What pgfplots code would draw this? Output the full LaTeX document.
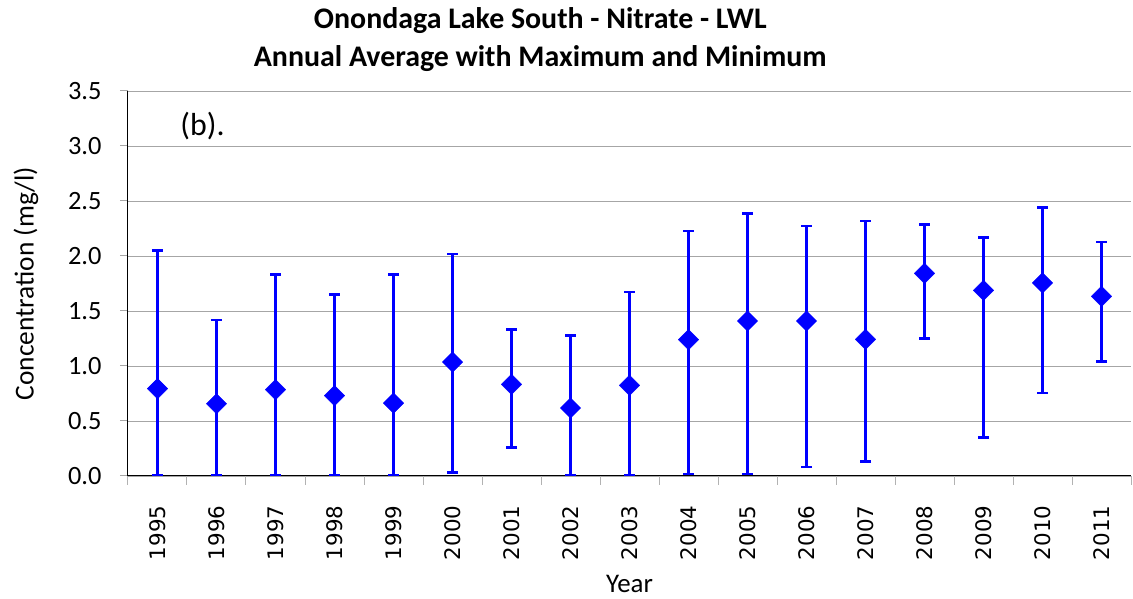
\documentclass[border=0pt]{standalone}
\usepackage{pgfplots}
\pgfplotsset{compat=1.18}
\usepackage{pgfplotstable}
\usepackage{fontspec}
\setmainfont{Carlito}
\newfontfamily\tickfont{DejaVu Sans}
\definecolor{serblue}{RGB}{0,0,255}
\pgfplotstableread{
x mean max min
0 0.794 2.050 0.010
1 0.657 1.420 0.010
2 0.785 1.830 0.010
3 0.730 1.650 0.010
4 0.663 1.830 0.010
5 1.036 2.020 0.033
6 0.833 1.333 0.260
7 0.618 1.278 0.010
8 0.824 1.673 0.010
9 1.239 2.227 0.020
10 1.409 2.387 0.020
11 1.409 2.273 0.080
12 1.242 2.318 0.130
13 1.842 2.288 1.248
14 1.687 2.169 0.351
15 1.755 2.439 0.755
16 1.633 2.127 1.039
}\data
\begin{document}
\begin{tikzpicture}[x=1bp,y=1bp]
\begin{axis}[
  at={(0,0)}, anchor=south west,
  scale only axis, width=1003bp, height=385bp,
  xmin=-0.5, xmax=16.5, ymin=0, ymax=3.5,
  axis x line*=bottom, axis y line*=left,
  axis line style={black, line width=1bp},
  xtick={0,...,16},
  xticklabels={1995,1996,1997,1998,1999,2000,2001,2002,2003,2004,2005,2006,2007,2008,2009,2010,2011},
  major x tick style={draw=none},
  minor xtick={-0.5,0.5,...,16.5},
  minor x tick style={gray!60, line width=1bp},
  minor tick length=9bp,
  tick align=outside,
  ytick={0,0.5,...,3.5},
  major tick length=8bp,
  y tick style={gray!70, line width=1bp},
  /pgf/number format/fixed, /pgf/number format/fixed zerofill,
  /pgf/number format/precision=1, /pgf/number format/assume math mode=true,
  y tick label style={font=\fontsize{26.5}{26.5}\selectfont, xshift=-15bp},
  x tick label style={rotate=90, anchor=east, font=\tickfont\fontsize{21.5}{21.5}\selectfont},
  xticklabel shift=18bp,
  ymajorgrids,
  grid style={gray!70, line width=0.8bp},
  ylabel={Concentration (mg/l)},
  ylabel style={at={(rel axis cs:-0.1017,0.5)}, anchor=center, font=\fontsize{27.5}{27.5}\selectfont},
  xlabel={Year},
  xlabel style={at={(rel axis cs:0.5,-0.28)}, anchor=center, font=\fontsize{27}{27}\selectfont},
  clip=false,
]
\addplot[only marks, serblue, mark=square*, mark size=7.2bp,
  mark options={rotate=45, serblue},
  error bars/.cd, y dir=both, y explicit,
  error bar style={line width=2.5bp, serblue},
  error mark options={rotate=90, line width=2.5bp, mark size=5.5bp, serblue}]
  table[x=x, y=mean, y error plus expr=\thisrow{max}-\thisrow{mean}, y error minus expr=\thisrow{mean}-\thisrow{min}] {\data};
\node[anchor=west, font=\fontsize{32}{32}\selectfont] at (axis cs:0.33,3.18) {(b).};
\node[anchor=base, font=\bfseries\fontsize{30}{30}\selectfont] at ([yshift=62bp]rel axis cs:0.411,1) {Onondaga Lake South - Nitrate - LWL};
\node[anchor=base, font=\bfseries\fontsize{30}{30}\selectfont] at ([yshift=24bp]rel axis cs:0.411,1) {Annual Average with Maximum and Minimum};
\end{axis}
\pgfresetboundingbox
\path (-128,-123) rectangle (1005,476);
\end{tikzpicture}
\end{document}
